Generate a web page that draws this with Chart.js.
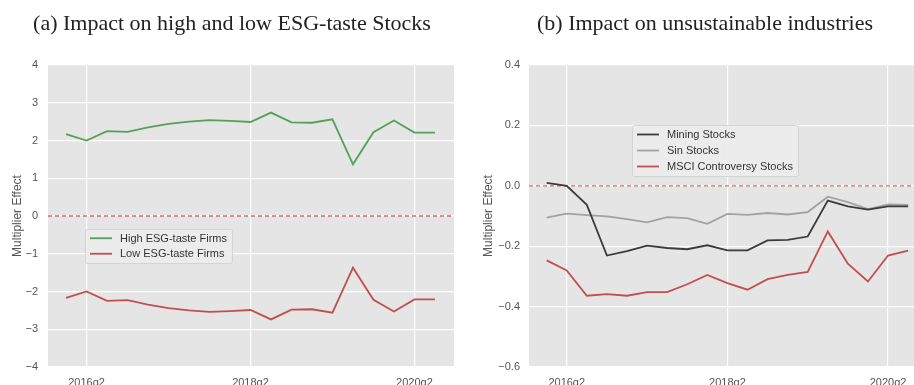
<!DOCTYPE html>
<html>
<head>
<meta charset="utf-8">
<script src="https://cdn.jsdelivr.net/npm/chart.js@4.4.1/dist/chart.umd.min.js"></script>
<style>
  html, body { margin: 0; padding: 0; background: #fff; overflow: hidden; }
  body { width: 914px; height: 385px; position: relative; }
  .panel { position: absolute; top: 0; }
  #left { left: 0; }
  #right { left: 457px; }
</style>
</head>
<body>
<div class="panel" id="left"><canvas id="esgTaste" width="466" height="395"></canvas></div>
<div class="panel" id="right"><canvas id="industries" width="480" height="395"></canvas></div>
<script>
const quarters = [
  "2016q1", "2016q2", "2016q3", "2016q4",
  "2017q1", "2017q2", "2017q3", "2017q4",
  "2018q1", "2018q2", "2018q3", "2018q4",
  "2019q1", "2019q2", "2019q3", "2019q4",
  "2020q1", "2020q2", "2020q3"
];
const tickQuarters = ["2016q2", "2018q2", "2020q2"];

// panel (a)
const highEsg = [2.17, 2.00, 2.25, 2.23, 2.35, 2.44, 2.50, 2.54, 2.52, 2.49, 2.74, 2.48, 2.47, 2.56, 1.37, 2.22, 2.53, 2.21, 2.21];
const lowEsg = [-2.17, -2.00, -2.25, -2.23, -2.35, -2.44, -2.50, -2.54, -2.52, -2.49, -2.74, -2.48, -2.47, -2.56, -1.37, -2.22, -2.53, -2.21, -2.21];

// panel (b)
const mining = [0.010, 0.000, -0.063, -0.231, -0.216, -0.198, -0.206, -0.210, -0.197, -0.214, -0.214, -0.181, -0.179, -0.168, -0.049, -0.068, -0.079, -0.068, -0.068];
const sinStocks = [-0.105, -0.092, -0.097, -0.101, -0.110, -0.121, -0.104, -0.107, -0.126, -0.093, -0.096, -0.090, -0.095, -0.087, -0.036, -0.054, -0.077, -0.062, -0.063];
const msciControversy = [-0.247, -0.280, -0.364, -0.359, -0.364, -0.352, -0.352, -0.326, -0.295, -0.322, -0.344, -0.309, -0.295, -0.285, -0.151, -0.258, -0.317, -0.231, -0.215];

const SANS = "'Liberation Sans', Arial, sans-serif";
const SERIF = "'Liberation Serif', 'DejaVu Serif', serif";
const PANEL_BG = "#e5e5e5";

const minus = (s) => s.replace("-", "\u2212");

const series = (values) => values.map((y, i) => ({ x: i, y }));

// grey panel behind the grid
const panelBackground = {
  id: "panelBackground",
  beforeDraw(chart) {
    const { ctx, chartArea: a } = chart;
    ctx.save();
    ctx.fillStyle = PANEL_BG;
    ctx.fillRect(a.left, a.top, a.right - a.left, a.bottom - a.top);
    ctx.restore();
  }
};

// dashed reference line at zero
const zeroLine = {
  id: "zeroLine",
  beforeDatasetsDraw(chart) {
    const { ctx, chartArea: a, scales } = chart;
    const y = scales.y.getPixelForValue(0);
    ctx.save();
    ctx.strokeStyle = "rgba(200, 82, 82, 0.85)";
    ctx.lineWidth = 1.3;
    ctx.setLineDash([4, 3]);
    ctx.beginPath();
    ctx.moveTo(a.left, y);
    ctx.lineTo(a.right, y);
    ctx.stroke();
    ctx.restore();
  }
};

// legend box drawn inside the plot area
const insetLegend = {
  id: "insetLegend",
  afterDraw(chart, args, opts) {
    const { ctx, chartArea: a } = chart;
    const items = chart.data.datasets;
    ctx.save();
    ctx.font = "11px " + SANS;
    const textW = Math.max(...items.map(d => ctx.measureText(d.label).width));
    const x0 = a.left + opts.x;
    const y0 = a.top + opts.y;
    const w = 35 + textW + 5;
    const h = opts.rowHeight * items.length + 3;
    ctx.fillStyle = "rgba(236, 236, 236, 0.9)";
    ctx.strokeStyle = "#d4d4d4";
    ctx.lineWidth = 1;
    ctx.beginPath();
    ctx.roundRect(x0 + 0.5, y0 + 0.5, w, h, 2);
    ctx.fill();
    ctx.stroke();
    ctx.textBaseline = "middle";
    items.forEach((d, i) => {
      const cy = y0 + 1.5 + opts.rowHeight * (i + 0.5);
      ctx.strokeStyle = d.borderColor;
      ctx.lineWidth = d.borderWidth;
      ctx.beginPath();
      ctx.moveTo(x0 + 5, cy);
      ctx.lineTo(x0 + 27, cy);
      ctx.stroke();
      ctx.fillStyle = "#333";
      ctx.fillText(d.label, x0 + 35, cy + 0.5);
    });
    ctx.restore();
  }
};

function panelOptions(cfg) {
  return {
    responsive: false,
    animation: false,
    devicePixelRatio: 1,
    layout: { padding: { left: cfg.padLeft, right: cfg.padRight, top: 0, bottom: 0 } },
    elements: { point: { radius: 0 }, line: { tension: 0, borderWidth: 1.8 } },
    plugins: {
      legend: { display: false },
      tooltip: { enabled: false },
      title: {
        display: true,
        text: cfg.title,
        color: "#222",
        font: { family: SERIF, size: 22, weight: "normal", lineHeight: 1.2 },
        padding: { top: 10.8, bottom: 27.8 }
      },
      insetLegend: cfg.legend
    },
    scales: {
      x: {
        type: "linear",
        min: -0.88,
        max: cfg.xMax,
        afterBuildTicks: (scale) => {
          scale.ticks = tickQuarters.map(q => ({ value: quarters.indexOf(q) }));
        },
        afterFit: (scale) => { scale.height = 28; },
        grid: { color: "#ffffff", lineWidth: 1.2, drawTicks: false },
        border: { display: false },
        ticks: {
          color: "#555",
          font: { family: SANS, size: 11 },
          padding: 9,
          maxRotation: 0,
          callback: (v) => quarters[v]
        }
      },
      y: {
        min: cfg.yMin,
        max: cfg.yMax,
        afterFit: (scale) => { scale.width = cfg.yWidth; },
        grid: { color: "#ffffff", lineWidth: 1.2, drawTicks: false },
        border: { display: false },
        title: {
          display: true,
          text: "Multiplier Effect",
          color: "#555",
          font: { family: SANS, size: 12 },
          padding: { top: 0, bottom: 0 }
        },
        ticks: {
          stepSize: cfg.yStep,
          color: "#555",
          font: { family: SANS, size: 11 },
          padding: cfg.tickPad,
          callback: cfg.yFormat
        }
      }
    }
  };
}

new Chart(document.getElementById("esgTaste"), {
  type: "line",
  data: {
    datasets: [
      { label: "High ESG-taste Firms", data: series(highEsg), borderColor: "#55a05b", borderWidth: 1.8 },
      { label: "Low ESG-taste Firms", data: series(lowEsg), borderColor: "#c24f50", borderWidth: 1.8 }
    ]
  },
  options: panelOptions({
    title: "(a) Impact on high and low ESG-taste Stocks",
    padLeft: 10, padRight: 12, yWidth: 38, tickPad: 10,
    xMax: 18.93, yMin: -4, yMax: 4, yStep: 1,
    yFormat: (v) => minus(String(v)),
    legend: { x: 37, y: 164, rowHeight: 15.5 }
  }),
  plugins: [panelBackground, zeroLine, insetLegend]
});

new Chart(document.getElementById("industries"), {
  type: "line",
  data: {
    datasets: [
      { label: "Mining Stocks", data: series(mining), borderColor: "#3b3b3b", borderWidth: 1.8 },
      { label: "Sin Stocks", data: series(sinStocks), borderColor: "#a2a2a2", borderWidth: 1.8 },
      { label: "MSCI Controversy Stocks", data: series(msciControversy), borderColor: "#c24f50", borderWidth: 1.8 }
    ]
  },
  options: panelOptions({
    title: "(b) Impact on unsustainable industries",
    padLeft: 24, padRight: 8, yWidth: 48, tickPad: 9,
    xMax: 19.04, yMin: -0.6, yMax: 0.4, yStep: 0.2,
    yFormat: (v) => minus((Math.abs(v) < 1e-9 ? 0 : v).toFixed(1)),
    legend: { x: 103, y: 60, rowHeight: 16 }
  }),
  plugins: [panelBackground, zeroLine, insetLegend]
});
</script>
</body>
</html>
